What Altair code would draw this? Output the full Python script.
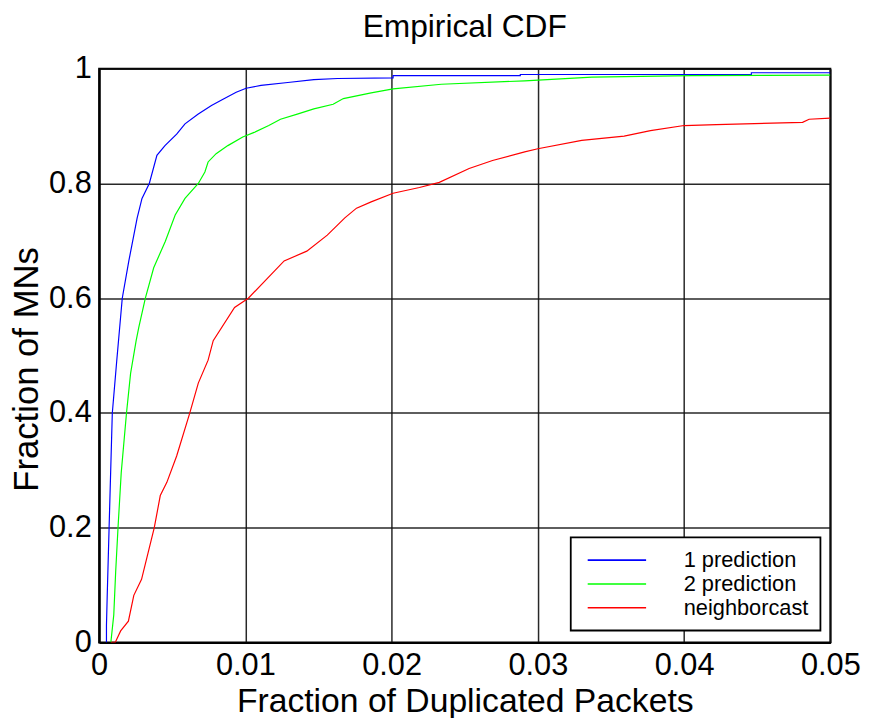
import altair as alt
import pandas as pd

series_names = ["1 prediction", "2 prediction", "neighborcast"]
series_colors = ["#0000ff", "#00ff00", "#ff0000"]

blue_x = [0.0005, 0.0005, 0.00055, 0.00068, 0.0009, 0.0012, 0.00158, 0.00203, 0.0026, 0.00293,
          0.00343, 0.00395, 0.0045, 0.0053, 0.00587, 0.00678, 0.00768, 0.00847, 0.00937, 0.01005,
          0.01107, 0.0129, 0.01468, 0.0163, 0.0201, 0.0201, 0.0288, 0.0288, 0.0446, 0.0446, 0.05]
blue_y = [0.0, 0.03, 0.08, 0.2, 0.4, 0.49, 0.6, 0.665, 0.74, 0.774,
          0.8, 0.849, 0.866, 0.886, 0.904, 0.921, 0.936, 0.947, 0.959, 0.966,
          0.971, 0.976, 0.981, 0.983, 0.984, 0.988, 0.988, 0.990, 0.990, 0.993, 0.993]

green_x = [0.0008, 0.001, 0.00113, 0.00129, 0.00151, 0.00187, 0.00215, 0.00253, 0.00271, 0.00316,
           0.00373, 0.00452, 0.0052, 0.00587, 0.00678, 0.00723, 0.00745, 0.008, 0.0088, 0.00982,
           0.0106, 0.0116, 0.0124, 0.01355, 0.01468, 0.016, 0.0167, 0.0186, 0.0201, 0.0234,
           0.0291, 0.0337, 0.0405, 0.05]
green_y = [0.0, 0.048, 0.123, 0.2, 0.296, 0.4, 0.469, 0.526, 0.549, 0.6,
           0.653, 0.699, 0.745, 0.774, 0.8, 0.82, 0.8375, 0.852, 0.866, 0.881,
           0.889, 0.901, 0.912, 0.921, 0.93, 0.938, 0.948, 0.958, 0.965, 0.973,
           0.979, 0.9855, 0.988, 0.989]

red_x = [0.0008, 0.0011, 0.00147, 0.002, 0.00237, 0.0029, 0.00377, 0.00418, 0.00463, 0.0053,
         0.0062, 0.00678, 0.00745, 0.0078, 0.00926, 0.0102, 0.01265, 0.0142, 0.0156, 0.0168,
         0.0176, 0.0186, 0.0201, 0.0219, 0.02326, 0.0253, 0.0269, 0.0291, 0.03, 0.033,
         0.0359, 0.0377, 0.04, 0.0422, 0.0481, 0.04855, 0.05]
red_y = [0.0, 0.0, 0.02, 0.037, 0.082, 0.11, 0.2, 0.256, 0.279, 0.325,
         0.4, 0.452, 0.492, 0.526, 0.584, 0.6, 0.665, 0.682, 0.71, 0.74,
         0.757, 0.768, 0.783, 0.793, 0.802, 0.826, 0.84, 0.855, 0.8605, 0.875,
         0.8825, 0.892, 0.901, 0.9027, 0.9066, 0.912, 0.914]

x_ticks = [0, 0.01, 0.02, 0.03, 0.04, 0.05]
y_ticks = [0, 0.2, 0.4, 0.6, 0.8, 1.0]

rows = []
for name, xs, ys in zip(series_names, [blue_x, green_x, red_x], [blue_y, green_y, red_y]):
    for i, (xv, yv) in enumerate(zip(xs, ys)):
        rows.append({"series": name, "x": xv, "y": yv, "i": i})
df = pd.DataFrame(rows)

FONT = "Liberation Sans"

chart = alt.Chart(df).mark_line(strokeWidth=1.2, clip=True).encode(
    x=alt.X("x:Q",
            scale=alt.Scale(domain=[0, 0.05], nice=False, zero=False),
            axis=alt.Axis(values=x_ticks, format="~g", title="Fraction of Duplicated Packets",
                          ticks=False, labelPadding=8, labelFlush=False, labelOverlap=False,
                          titleFontSize=34,
                          titleX=369, titleY=70, titleBaseline="alphabetic", titleAnchor="middle",
                          titleAlign="center")),
    y=alt.Y("y:Q",
            scale=alt.Scale(domain=[0, 1], nice=False),
            axis=alt.Axis(values=y_ticks, format="~g", title="Fraction of MNs",
                          ticks=False, labelPadding=8, labelFlush=False, labelOverlap=False,
                          titleFontSize=35,
                          titleX=-73, titleY=303, titleAngle=-90, titleBaseline="middle",
                          titleAlign="center")),
    color=alt.Color("series:N",
                    scale=alt.Scale(domain=series_names, range=series_colors),
                    legend=alt.Legend(title=None, orient="none", legendX=476, legendY=473,
                                      symbolType="M-1,0H9", symbolSize=139,
                                      symbolStrokeWidth=1.6, labelOffset=80,
                                      labelFontSize=22, labelFont=FONT, labelColor="#000",
                                      padding=12, rowPadding=2,
                                      fillColor="white", strokeColor="black")),
    order=alt.Order("i:Q"),
).properties(
    width=738,
    height=579,
    title=alt.TitleParams("Empirical CDF", fontSize=32, font=FONT, fontWeight="normal",
                          color="#000", anchor="middle", offset=9),
    autosize=alt.AutoSizeParams(type="none"),
    padding={"left": 92, "top": 58, "right": 36, "bottom": 73},
).configure_view(
    stroke="black", strokeWidth=2
).configure_axis(
    labelFont=FONT, titleFont=FONT, labelFontSize=31,
    labelColor="#000", titleColor="#000", titleFontWeight="normal",
    gridColor="#111", gridWidth=1.5, gridOpacity=0.9,
    domainColor="#000", domainWidth=2,
).configure_legend(
    strokeWidth=1.8
)

chart.save("out.html", embed_options={"renderer": "svg", "actions": False})
